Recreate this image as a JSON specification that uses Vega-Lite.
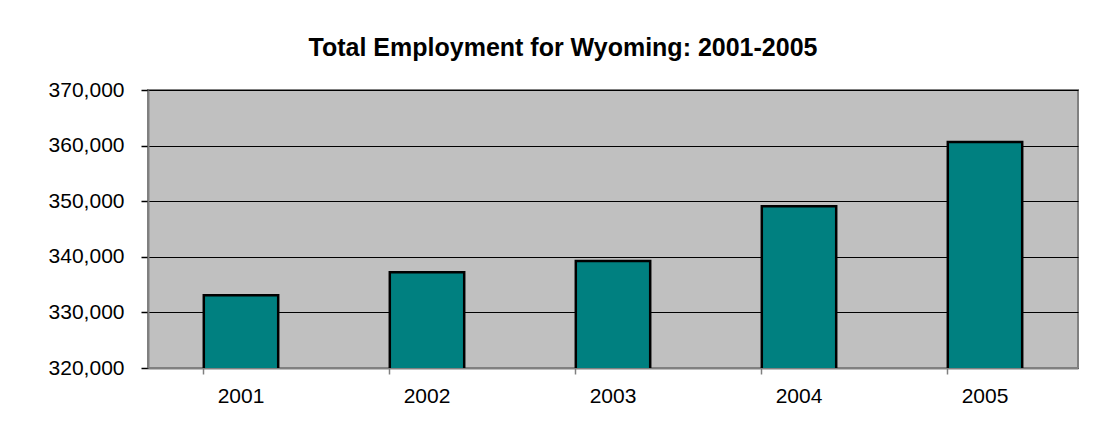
{
  "$schema": "https://vega.github.io/schema/vega-lite/v6.json",
  "width": 930,
  "height": 278,
  "autosize": {"type": "none"},
  "padding": {"left": 148, "top": 90, "right": 21, "bottom": 72},
  "background": "white",
  "title": {
    "text": "Total Employment for Wyoming: 2001-2005",
    "font": "Liberation Sans",
    "fontSize": 25,
    "fontWeight": "bold",
    "color": "black",
    "anchor": "middle",
    "frame": "group",
    "dx": -50,
    "dy": 35,
    "offset": 33,
    "baseline": "alphabetic"
  },
  "data": {
    "values": [
      {"year": "2001", "employment": 333100},
      {"year": "2002", "employment": 337200},
      {"year": "2003", "employment": 339250},
      {"year": "2004", "employment": 349100},
      {"year": "2005", "employment": 360650}
    ]
  },
  "mark": {"type": "bar", "color": "#008080", "stroke": "black", "strokeWidth": 2.5, "clip": true},
  "encoding": {
    "x": {
      "field": "year",
      "type": "ordinal",
      "scale": {"paddingInner": 0.6, "paddingOuter": 0.3},
      "axis": {
        "title": null,
        "labelAngle": 0,
        "labelFont": "Liberation Sans",
        "labelFontSize": 21,
        "labelColor": "black",
        "bandPosition": 0,
        "tickSize": 6,
        "tickColor": "#808080",
        "tickWidth": 1.5,
        "domainColor": "#808080",
        "domainWidth": 2,
        "labelPadding": 11,
        "labelBaseline": "top",
        "grid": false
      }
    },
    "y": {
      "field": "employment",
      "type": "quantitative",
      "scale": {"domain": [320000, 370000], "nice": false, "zero": false},
      "axis": {
        "title": null,
        "values": [320000, 330000, 340000, 350000, 360000, 370000],
        "format": ",d",
        "labelFont": "Liberation Sans",
        "labelFontSize": 21,
        "labelColor": "black",
        "tickSize": 7,
        "tickColor": "black",
        "tickWidth": 1.5,
        "domainColor": "#808080",
        "domainWidth": 2,
        "labelPadding": 17,
        "grid": true,
        "gridColor": "black",
        "gridWidth": 1.2,
        "gridOpacity": 1
      }
    }
  },
  "config": {
    "view": {"fill": "#C0C0C0", "stroke": "#808080", "strokeWidth": 2}
  }
}
